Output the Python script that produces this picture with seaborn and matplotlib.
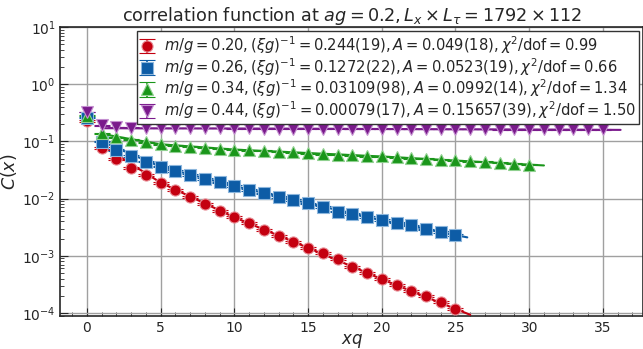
import matplotlib
matplotlib.use("Agg")
import matplotlib.pyplot as plt
import seaborn as sns
import pandas as pd
from matplotlib.ticker import MultipleLocator, LogLocator

# data
red_x = list(range(0, 26))
red_c = [0.23, 0.078, 0.0486, 0.0347, 0.0255, 0.019, 0.0141, 0.0105, 0.0080, 0.0061,
         0.0047, 0.0037, 0.0028, 0.0022, 0.00177, 0.00138, 0.00111, 0.00087, 0.00065,
         0.00050, 0.00039, 0.00031, 0.000246, 0.000199, 0.000155, 0.000118]
red_fit_x = [1, 5, 10, 15, 20, 26]
red_fit_c = [0.085, 0.019, 0.0047, 0.00138, 0.00039, 0.000093]

blue_x = list(range(0, 26))
blue_c = [0.26, 0.099, 0.071, 0.0556, 0.0442, 0.0363, 0.0304, 0.026, 0.022, 0.0193,
          0.0166, 0.0141, 0.0123, 0.0107, 0.0095, 0.0083, 0.0072, 0.0059, 0.0054,
          0.0048, 0.0042, 0.0038, 0.0034, 0.0029, 0.0026, 0.0023]
blue_fit_x = [1, 5, 10, 15, 20, 25.8]
blue_fit_c = [0.10, 0.036, 0.0166, 0.0083, 0.0042, 0.0021]

green_x = list(range(0, 31))
green_c = [0.28, 0.138, 0.118, 0.106, 0.096, 0.089, 0.084, 0.080, 0.077, 0.075, 0.072,
           0.070, 0.068, 0.066, 0.064, 0.062, 0.060, 0.058, 0.057, 0.0555, 0.0545,
           0.053, 0.051, 0.050, 0.048, 0.047, 0.045, 0.044, 0.042, 0.041, 0.039]
green_fit_x = [1, 5, 10, 20, 31]
green_fit_c = [0.135, 0.089, 0.072, 0.0545, 0.038]

purple_x = list(range(0, 36))
purple_c = [0.33, 0.19, 0.18, 0.175, 0.173, 0.172, 0.171, 0.171, 0.170, 0.170, 0.169,
            0.169, 0.168, 0.168, 0.168, 0.167, 0.167, 0.167, 0.166, 0.166, 0.166,
            0.165, 0.165, 0.165, 0.164, 0.164, 0.164, 0.164, 0.163, 0.163, 0.163,
            0.163, 0.162, 0.162, 0.162, 0.162]
purple_fit_x = [1, 10, 20, 36.2]
purple_fit_c = [0.17, 0.168, 0.165, 0.159]

rel_err = [0.04, 0.03, 0.02, 0.01]

labels = [
    r"$m/g = 0.20, (\xi g)^{-1} = 0.244(19), A = 0.049(18), \chi^2/\mathrm{dof} = 0.99$",
    r"$m/g = 0.26, (\xi g)^{-1} = 0.1272(22), A = 0.0523(19), \chi^2/\mathrm{dof} = 0.66$",
    r"$m/g = 0.34, (\xi g)^{-1} = 0.03109(98), A = 0.0992(14), \chi^2/\mathrm{dof} = 1.34$",
    r"$m/g = 0.44, (\xi g)^{-1} = 0.00079(17), A = 0.15657(39), \chi^2/\mathrm{dof} = 1.50$",
]

colors = ["#c40010", "#0d5ca6", "#1a961a", "#7a1a8c"]
light = ["#e89098", "#8cb6dc", "#8fd08f", "#c48fd0"]
markers = ["o", "s", "^", "v"]

series = [(red_x, red_c, red_fit_x, red_fit_c),
          (blue_x, blue_c, blue_fit_x, blue_fit_c),
          (green_x, green_c, green_fit_x, green_fit_c),
          (purple_x, purple_c, purple_fit_x, purple_fit_c)]

sns.set_style("ticks")
plt.rcParams["font.family"] = ["DejaVu Sans"]
plt.rcParams["mathtext.fontset"] = "dejavusans"

fig = plt.figure(figsize=(6.43, 3.49), dpi=100)
ax = fig.add_axes([0.094, 0.0946, 0.906, 0.828])

for i, (x, c, fx, fc) in enumerate(series):
    fit = pd.DataFrame({"x": fx, "c": fc})
    sns.lineplot(data=fit, x="x", y="c", ax=ax, color=colors[i], lw=1.5, zorder=3)
    err = [v * rel_err[i] for v in c]
    ax.errorbar(x, c, yerr=err, fmt=markers[i], color=colors[i], ms=8,
                mec=light[i], mew=0.8, ecolor=colors[i], elinewidth=1.2,
                capsize=6, capthick=1.2, label=labels[i], zorder=4)

ax.set_yscale("log")
ax.set_xlim(-1.8, 37.72)
ax.set_ylim(8.87e-5, 10)
ax.xaxis.set_major_locator(MultipleLocator(5))
ax.xaxis.set_minor_locator(MultipleLocator(1))
ax.yaxis.set_minor_locator(LogLocator(base=10, subs=range(2, 10), numticks=20))
ax.tick_params(which="both", direction="in", labelsize=10)
ax.tick_params(which="major", length=6)
ax.tick_params(which="minor", length=3)
ax.grid(True, which="major", color="#a0a0a0", lw=1)
for s in ax.spines.values():
    s.set_linewidth(1.2)

ax.set_xlabel(r"$xq$", fontsize=12, labelpad=-2)
ax.set_ylabel(r"$C(x)$", fontsize=12.5, labelpad=2)
ax.set_title(r"correlation function at $ag = 0.2, L_x \times L_\tau = 1792 \times 112$",
             fontsize=12.7, pad=4)

leg = ax.legend(loc="upper right", fontsize=10.6, fancybox=False, framealpha=1,
                edgecolor="#333333", borderaxespad=0.3, handlelength=1.0,
                handletextpad=0.6, labelspacing=0.0, borderpad=0.2)
leg.set_zorder(10)

fig.savefig("out.png", dpi=100)
